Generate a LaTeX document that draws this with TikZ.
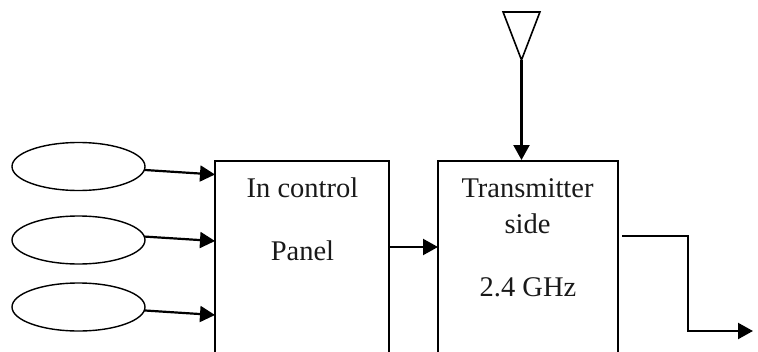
\documentclass[tikz,border=0pt]{standalone}
\usepackage{fontspec}
\setmainfont{Liberation Serif}
\usetikzlibrary{arrows.meta,shapes.geometric}
\tikzset{
  x=1pt,y=-1pt,
  sensor/.style={draw=black,line width=1.4pt,ellipse,inner sep=0pt,outer sep=0pt,minimum width=133pt,minimum height=48pt},
  blockbox/.style={draw=black,line width=1.7pt,rectangle,inner sep=0pt,outer sep=0pt,anchor=north west},
  lbl/.style={font=\fontsize{28.5}{30}\selectfont,inner sep=0pt,text=black!90},
  antenna/.style={draw=black,line width=1.6pt,isosceles triangle,isosceles triangle apex angle=42,shape border rotate=-90,inner sep=0pt,outer sep=0pt,minimum height=48pt},
  conn/.style={line width=2.2pt,draw=black,-{Triangle[length=15pt,width=16pt]}},
}
\begin{document}
\begin{tikzpicture}
\useasboundingbox (0,0) rectangle (758,351);
\clip (0,0) rectangle (758,351);
\node[sensor] (s1) at (78.5,166.5) {};
\node[sensor] (s2) at (78.5,240) {};
\node[sensor] (s3) at (78.5,307) {};
\node[blockbox,minimum width=174pt,minimum height=210pt] (panel) at (215,161) {};
\node[blockbox,minimum width=180pt,minimum height=210pt] (tx) at (438,161) {};
\node[lbl] (t1) at (302.5,188) {In control};
\node[lbl] (t2) at (302.5,251) {Panel};
\node[lbl] (t3) at (527.5,188) {Transmitter};
\node[lbl] (t4) at (527.5,224) {side};
\node[lbl] (t5) at (528,287) {2.4 GHz};
\node[antenna,anchor=apex] (ant) at (521.5,60) {};
\coordinate (p1) at (215,174.5);
\coordinate (p2) at (215,241);
\coordinate (p3) at (215,315);
\coordinate (pout) at (389,247);
\coordinate (txin) at (438,247);
\coordinate (txtop) at (521.5,160);
\coordinate (o0) at (622,236);
\coordinate (o1) at (688,236);
\coordinate (o2) at (688,331);
\coordinate (o3) at (753,331);
\draw[conn] (s1.-3) -- (p1);
\draw[conn] (s2.3) -- (p2);
\draw[conn] (s3.-3) -- (p3);
\draw[conn] (pout) -- (txin);
\draw[conn] (ant.apex) -- (txtop);
\draw[conn] (o0) -- (o1) -- (o2) -- (o3);
\end{tikzpicture}
\end{document}
